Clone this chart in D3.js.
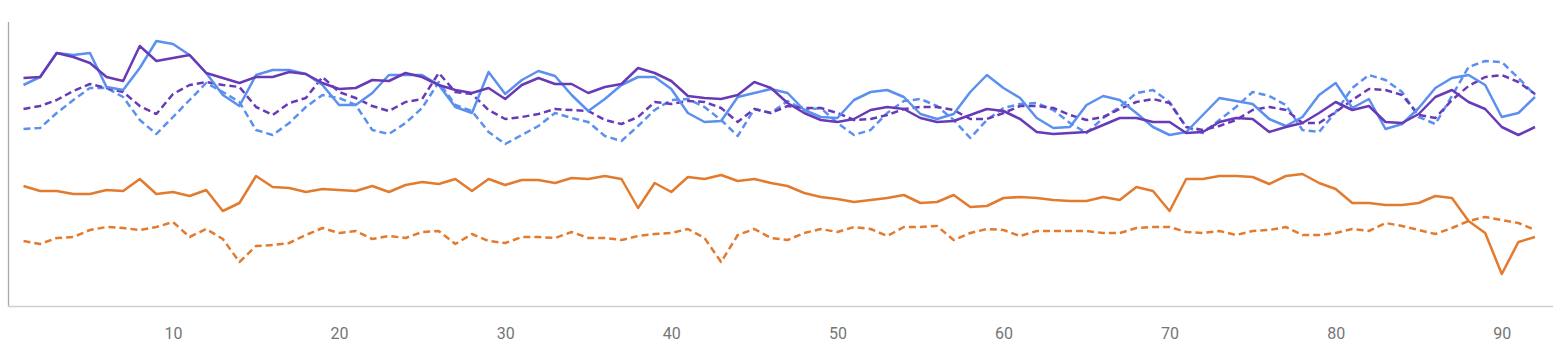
<!DOCTYPE html>
<html><head><meta charset="utf-8">
<script src="https://cdn.jsdelivr.net/npm/d3@7/dist/d3.min.js"></script>
<style>html,body{margin:0;padding:0;background:#fff;}svg{display:block;}</style>
</head><body><svg id="c" width="1568" height="356"></svg>
<script>
const xTicks = [10,20,30,40,50,60,70,80,90];
const purpleSolid = [229,230,254,250,244,230,226,261,246,249,252,234,229,224,230,230,235,233,224,218,219,227,226,234,230,222,217,214,219,208,222,229,223,223,214,220,223,239,234,226,211,209,208,212,225,219,204,194,187,185,188,197,200,198,189,185,186,192,198,196,188,175,173,174,175,182,189,189,185,185,174,175,185,189,188,175,180,184,194,205,197,201,185,184,193,210,217,205,198,180,172,180];
const blueSolid = [222,230,254,252,254,220,217,239,266,263,252,234,212,201,232,237,237,233,222,202,202,214,232,232,232,222,200,194,235,213,227,236,231,212,196,208,222,230,230,218,194,185,186,210,214,218,214,197,190,189,207,215,217,210,193,188,193,215,232,219,209,189,179,180,202,211,207,194,180,172,175,192,209,206,203,188,181,190,212,224,199,208,178,183,199,219,229,232,222,190,194,210];
const purpleDashed = [198,201,207,216,223,219,215,201,193,213,222,225,222,220,200,192,204,209,230,215,209,201,196,205,208,234,215,213,197,188,190,193,198,197,196,187,183,190,205,203,206,205,199,185,198,194,201,199,199,194,187,188,192,198,200,200,197,188,188,194,201,201,199,192,187,190,198,205,208,204,180,177,181,187,197,200,197,184,184,195,207,218,217,212,192,189,207,221,230,232,225,213];
const blueDashed = [178,179,194,207,219,219,210,187,173,190,207,224,215,205,177,172,184,200,212,209,202,177,173,184,199,225,202,196,175,163,172,181,194,189,185,171,166,181,197,207,208,200,187,171,198,194,206,197,199,184,172,177,194,206,208,201,187,169,187,199,203,204,197,184,174,189,200,214,217,205,180,174,187,200,215,211,202,177,175,195,219,232,227,215,190,183,211,240,246,245,229,212];
const orangeSolid = [121,116,116,113,113,117,116,128,113,115,111,117,96,104,131,120,119,115,118,117,116,121,115,122,125,123,128,116,128,122,127,127,124,129,128,131,128,99,124,115,130,128,132,126,128,124,121,114,110,108,105,107,109,112,104,105,112,100,101,109,110,109,107,106,106,110,107,120,116,96,128,128,131,131,130,123,131,133,124,118,104,104,102,102,104,111,109,86,74,33,65,70];
const orangeDashed = [66,63,69,70,77,80,79,77,80,85,70,78,68,45,61,62,64,72,79,74,76,68,71,69,75,76,63,73,66,64,70,70,69,75,69,69,67,71,73,74,78,69,45,72,78,69,67,74,78,75,80,78,71,80,80,81,67,74,78,77,71,76,76,76,76,74,74,79,80,80,75,74,76,72,76,77,80,72,72,74,78,76,84,81,77,73,79,86,90,87,84,77];

const series = [
  {v: orangeDashed, color: "#e37b2e", dash: true},
  {v: orangeSolid, color: "#e37b2e", dash: false},
  {v: blueDashed, color: "#5b90ef", dash: true},
  {v: purpleDashed, color: "#673ab7", dash: true},
  {v: blueSolid, color: "#5b90ef", dash: false},
  {v: purpleSolid, color: "#673ab7", dash: false}
];

const svg = d3.select("#c");
const x = d3.scaleLinear().domain([1, 92]).range([23.5, 1535]);
const y = d3.scaleLinear().domain([0, 285]).range([307, 22]);

svg.append("line").attr("x1", 8.5).attr("x2", 8.5).attr("y1", 22).attr("y2", 307)
  .attr("stroke", "#a8a8a8").attr("stroke-width", 1.3);
svg.append("line").attr("x1", 8).attr("x2", 1553).attr("y1", 306.5).attr("y2", 306.5)
  .attr("stroke", "#cfcfcf").attr("stroke-width", 1.3);

const xAxis = d3.axisBottom(x).tickValues(xTicks).tickSize(0).tickPadding(0);
const gx = svg.append("g").attr("transform", "translate(0,328)").call(xAxis);
gx.select(".domain").remove();
gx.selectAll("text").attr("fill", "#757575").attr("font-family", "Roboto, sans-serif")
  .attr("font-size", 16).attr("dy", "0.71em");

const line = d3.line().x((d, i) => x(i + 1)).y(d => y(d));
series.forEach(s => {
  svg.append("path").datum(s.v).attr("d", line)
    .attr("fill", "none").attr("stroke", s.color).attr("stroke-width", 2.5)
    .attr("stroke-linejoin", "round")
    .attr("stroke-dasharray", s.dash ? "7,4" : null);
});
</script></body></html>
